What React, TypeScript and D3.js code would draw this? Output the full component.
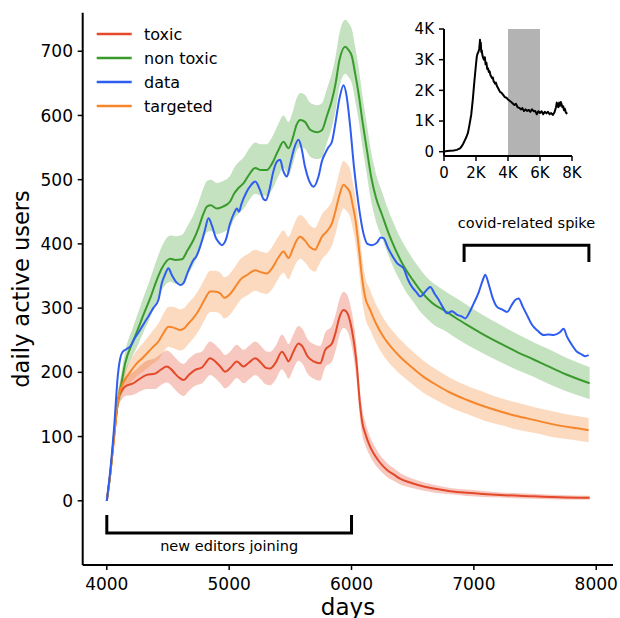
import React from 'react';
import * as d3 from 'd3';

// [day, mean, spread]
const toxic: number[][] = [
  [4000,0,0],[4030,45,4],[4060,100,8],[4095,160,12],[4125,172,14],[4150,178,15],[4218,183,18],[4270,190,20],
  [4327,196,22],[4395,198,24],[4440,204,24],[4491,209,25],[4525,205,25],[4558,198,25],[4590,192,25],[4627,188,25],
  [4670,196,25],[4722,204,25],[4780,208,25],[4845,222,26],[4880,218,26],[4927,209,26],[4967,201,26],[5010,207,26],
  [5063,217,26],[5117,209,26],[5160,215,26],[5213,222,26],[5260,215,26],[5300,207,26],[5335,206,26],[5380,215,26],
  [5431,232,27],[5460,225,27],[5485,217,27],[5520,230,27],[5567,245,27],[5600,240,27],[5640,225,27],[5690,217,27],
  [5744,214,27],[5785,235,27],[5840,245,28],[5870,262,28],[5900,285,28],[5935,297,28],[5960,294,28],[6003,266,27],
  [6025,240,27],[6044,209,26],[6058,175,24],[6072,145,22],[6090,120,20],[6112,105,18],[6150,85,15],[6180,74,14],
  [6230,60,12],[6290,48,11],[6344,41,10],[6400,34,9],[6453,30,8],[6535,25,7],[6671,19,6],[6807,15,5],
  [6944,12.5,5],[7216,9,4],[7488,7,4],[7700,5.5,3.5],[7946,4.7,3],
];

const nonToxic: number[][] = [
  [4000,0,0],[4030,45,5],[4060,105,10],[4090,155,14],[4109,172,16],[4150,214,18],[4218,250,22],[4260,270,25],
  [4300,290,27],[4354,315,30],[4409,344,32],[4450,362,34],[4518,377,36],[4560,375,37],[4613,376,38],[4660,390,38],
  [4708,406,39],[4750,425,40],[4790,447,40],[4818,458,40],[4850,460,40],[4900,455,40],[4950,458,40],[5008,466,40],
  [5040,478,40],[5076,487,40],[5120,495,40],[5170,510,40],[5213,518,40],[5260,515,40],[5308,515,40],[5350,525,41],
  [5400,545,41],[5444,559,41],[5485,549,41],[5520,565,41],[5550,585,41],[5581,593,42],[5620,590,42],[5660,578,42],
  [5690,575,42],[5720,574,42],[5758,577,42],[5800,600,42],[5840,624,42],[5870,650,42],[5900,685,42],[5949,707,42],
  [5975,702,42],[6003,692,42],[6030,665,42],[6057,635,41],[6090,590,40],[6126,546,39],[6160,505,38],[6200,472,37],
  [6250,445,36],[6300,418,35],[6350,395,35],[6400,375,34],[6450,358,34],[6500,344,33],[6560,328,33],[6620,315,32],
  [6680,305,32],[6753,297,31],[6850,285,31],[6944,274,31],[7050,262,30],[7216,245,29],[7350,232,28],[7488,220,27],
  [7600,210,27],[7750,197,26],[7946,183,25],
];

const dataSeries: number[][] = [
  [4000,0],[4030,50],[4060,115],[4090,195],[4110,222],[4130,232],[4160,236],[4190,240],[4230,254],[4272,266],
  [4310,278],[4340,287],[4380,300],[4422,313],[4450,339],[4475,352],[4504,362],[4530,352],[4570,340],[4600,336],
  [4627,339],[4660,355],[4708,375],[4730,380],[4770,400],[4800,420],[4831,440],[4860,428],[4890,410],[4913,403],
  [4940,398],[4970,405],[5008,432],[5040,448],[5063,455],[5080,450],[5100,462],[5140,480],[5180,492],[5213,497],
  [5250,485],[5280,470],[5300,468],[5330,485],[5360,512],[5390,528],[5417,531],[5440,515],[5472,505],[5500,525],
  [5530,548],[5567,562],[5590,550],[5620,520],[5650,500],[5690,489],[5730,505],[5760,530],[5785,541],[5810,550],
  [5840,559],[5870,590],[5900,625],[5935,647],[5960,630],[5989,583],[6020,520],[6057,462],[6098,416],[6130,400],
  [6167,398],[6208,402],[6240,410],[6262,409],[6300,393],[6344,378],[6372,370],[6400,366],[6425,362],[6460,345],
  [6494,333],[6530,325],[6562,318],[6600,325],[6644,333],[6680,322],[6712,313],[6750,300],[6780,292],[6820,295],
  [6860,290],[6900,287],[6930,284],[6960,292],[6998,307],[7040,325],[7070,342],[7093,352],[7120,338],[7150,318],
  [7189,302],[7230,298],[7271,294],[7310,305],[7340,313],[7366,315],[7400,302],[7440,287],[7475,274],[7520,265],
  [7570,258],[7610,259],[7652,258],[7700,262],[7734,268],[7760,256],[7800,243],[7843,232],[7880,228],[7910,225],
  [7938,227],
];

const targeted: number[][] = [
  [4000,0,0],[4030,45,4],[4060,100,8],[4095,160,12],[4130,182,14],[4163,193,16],[4200,203,18],[4245,214,20],
  [4290,222,22],[4340,232,24],[4380,240,26],[4422,248,28],[4460,260,30],[4504,271,31],[4540,270,32],[4600,266,32],
  [4630,268,32],[4667,276,32],[4700,283,32],[4736,292,32],[4770,303,32],[4804,315,32],[4845,326,32],[4880,326,32],
  [4927,323,32],[4960,316,32],[5008,322,32],[5050,333,32],[5090,344,32],[5150,352,32],[5213,359,32],[5260,356,32],
  [5308,354,32],[5350,362,33],[5400,378,33],[5444,388,33],[5485,378,33],[5520,392,33],[5550,405,34],[5581,411,34],
  [5620,405,34],[5660,395,34],[5703,391,34],[5730,400,34],[5758,411,35],[5800,420,35],[5840,432,35],[5870,452,36],
  [5900,475,36],[5935,492,37],[5960,488,37],[5989,479,37],[6010,460,36],[6030,440,36],[6044,420,35],[6065,385,34],
  [6085,349,33],[6110,318,32],[6153,297,31],[6200,276,30],[6262,255,29],[6330,238,28],[6398,224,27],[6480,210,26],
  [6589,193,25],[6671,183,24],[6800,169,23],[6944,157,22],[7100,146,22],[7216,139,21],[7350,132,21],[7488,126,20],
  [7650,119,20],[7800,114,19],[7938,110,19],
];

// inset: [day, daily active users]
const insetData: number[][] = [
  [0,10],[200,20],[400,30],[600,40],[800,60],[1000,110],[1100,170],[1200,260],[1300,370],[1400,480],[1500,620],
  [1600,900],[1700,1200],[1800,1700],[1900,2300],[2000,2850],[2050,3100],[2100,3200],[2150,3250],[2200,3350],
  [2230,3500],[2250,3650],[2270,3400],[2300,3550],[2330,3250],[2360,3300],[2400,3150],[2450,3050],[2500,3000],
  [2550,3080],[2600,2850],[2650,2900],[2700,2700],[2750,2720],[2800,2600],[2850,2620],[2900,2500],[3000,2400],
  [3050,2420],[3100,2300],[3200,2220],[3250,2250],[3300,2150],[3400,2050],[3500,1950],[3600,1920],[3700,1850],
  [3800,1780],[3900,1760],[4000,1700],[4100,1660],[4200,1620],[4300,1570],[4400,1520],[4500,1560],[4600,1450],
  [4700,1430],[4800,1380],[4900,1420],[5000,1330],[5100,1380],[5200,1330],[5300,1360],[5400,1300],[5500,1380],
  [5600,1320],[5700,1330],[5800,1220],[5900,1320],[6000,1260],[6100,1320],[6200,1220],[6300,1300],[6400,1250],
  [6500,1300],[6600,1220],[6700,1260],[6800,1200],[6900,1280],[7000,1450],[7050,1600],[7100,1500],[7150,1450],
  [7200,1600],[7250,1500],[7300,1620],[7350,1550],[7400,1450],[7450,1480],[7500,1350],[7550,1400],[7600,1300],
  [7650,1250],[7700,1280],
];

const legendLabels = ['toxic', 'non toxic', 'data', 'targeted'];
const xTicks = [4000, 5000, 6000, 7000, 8000];
const yTicks = [0, 100, 200, 300, 400, 500, 600, 700];
const insetXTicks = [0, 2000, 4000, 6000, 8000];
const insetYTicks = [0, 1000, 2000, 3000, 4000];
const insetSpan = [4000, 6000];
const editorsBracket = [4000, 6000, -22, -50];
const covidBracket = [6920, 7940, 398, 372];

const COLORS = {
  toxic: '#e4492a',
  nonToxic: '#3a9b2d',
  data: '#2f5df0',
  targeted: '#f5862b',
};
const FONT = 'DejaVu Sans, sans-serif';

export default function App() {
  const x = d3.scaleLinear().domain([3803, 8137]).range([82.7, 613]);
  const y = d3.scaleLinear().domain([-100, 760]).range([565, 12.7]);

  const line = d3
    .line<number[]>()
    .x((d) => x(d[0]))
    .y((d) => y(d[1]))
    .curve(d3.curveMonotoneX);
  const band = d3
    .area<number[]>()
    .x((d) => x(d[0]))
    .y0((d) => y(d[1] - d[2]))
    .y1((d) => y(d[1] + d[2]))
    .curve(d3.curveMonotoneX);

  const ix = d3.scaleLinear().domain([0, 8000]).range([444, 572]);
  const iy = d3.scaleLinear().domain([-140, 4000]).range([156, 29]);
  const iline = d3
    .line<number[]>()
    .x((d) => ix(d[0]))
    .y((d) => iy(d[1]))
    .curve(d3.curveLinear);

  const kfmt = (v: number) => (v === 0 ? '0' : `${v / 1000}K`);
  const legendColors = [COLORS.toxic, COLORS.nonToxic, COLORS.data, COLORS.targeted];

  const eb = editorsBracket;
  const cb = covidBracket;

  return (
    <svg
      width={620}
      height={618}
      style={{ position: 'absolute', left: 0, top: 0, background: '#fff' }}
      fontFamily={FONT}
    >
      <rect x={0} y={0} width={620} height={618} fill="#fff" />
      {/* bands */}
      <path d={band(toxic) || ''} fill={COLORS.toxic} fillOpacity={0.3} />
      <path d={band(nonToxic) || ''} fill={COLORS.nonToxic} fillOpacity={0.3} />
      <path d={band(targeted) || ''} fill={COLORS.targeted} fillOpacity={0.3} />
      {/* lines */}
      <path d={line(toxic) || ''} fill="none" stroke={COLORS.toxic} strokeWidth={2} />
      <path d={line(nonToxic) || ''} fill="none" stroke={COLORS.nonToxic} strokeWidth={2} />
      <path d={line(targeted) || ''} fill="none" stroke={COLORS.targeted} strokeWidth={2} />
      <path d={line(dataSeries) || ''} fill="none" stroke={COLORS.data} strokeWidth={2} />

      {/* brackets */}
      <path
        d={`M${x(eb[0])},${y(eb[2])}V${y(eb[3])}H${x(eb[1])}V${y(eb[2])}`}
        fill="none"
        stroke="#000"
        strokeWidth={3}
      />
      <text x={x((eb[0] + eb[1]) / 2)} y={y(-78)} fontSize={14.5} textAnchor="middle" fill="#000">
        new editors joining
      </text>
      <path
        d={`M${x(cb[0])},${y(cb[3])}V${y(cb[2])}H${x(cb[1])}V${y(cb[3])}`}
        fill="none"
        stroke="#000"
        strokeWidth={3}
      />
      <text x={x((cb[0] + cb[1]) / 2)} y={y(424)} fontSize={14.5} textAnchor="middle" fill="#000">
        covid-related spike
      </text>

      {/* axes */}
      <line x1={82.7} x2={82.7} y1={12.7} y2={565} stroke="#000" strokeWidth={2} />
      <line x1={82.7} x2={613} y1={565} y2={565} stroke="#000" strokeWidth={2} />
      {yTicks.map((t) => (
        <g key={`y${t}`}>
          <line x1={77.7} x2={82.7} y1={y(t)} y2={y(t)} stroke="#000" strokeWidth={1.5} />
          <text x={73} y={y(t)} dy="0.36em" fontSize={17} textAnchor="end" fill="#000">
            {t}
          </text>
        </g>
      ))}
      {xTicks.map((t) => (
        <g key={`x${t}`}>
          <line x1={x(t)} x2={x(t)} y1={565} y2={570} stroke="#000" strokeWidth={1.5} />
          <text x={x(t)} y={589.5} fontSize={17} textAnchor="middle" fill="#000">
            {t}
          </text>
        </g>
      ))}
      <text x={348} y={615} fontSize={23} textAnchor="middle" fill="#000">
        days
      </text>
      <text
        transform={`translate(29,289) rotate(-90)`}
        fontSize={22.5}
        textAnchor="middle"
        fill="#000"
      >
        daily active users
      </text>

      {/* legend */}
      {legendLabels.map((l, i) => (
        <g key={l}>
          <line
            x1={96.7}
            x2={131.7}
            y1={34 + i * 24}
            y2={34 + i * 24}
            stroke={legendColors[i]}
            strokeWidth={2.5}
          />
          <text x={144} y={34 + i * 24} dy="0.36em" fontSize={16} fill="#000">
            {l}
          </text>
        </g>
      ))}

      {/* inset */}
      <rect
        x={ix(insetSpan[0])}
        y={29}
        width={ix(insetSpan[1]) - ix(insetSpan[0])}
        height={156 - 29}
        fill="#b3b3b3"
      />
      <path d={iline(insetData) || ''} fill="none" stroke="#000" strokeWidth={2} strokeLinejoin="round" />
      <line x1={444} x2={444} y1={29} y2={156} stroke="#000" strokeWidth={2} />
      <line x1={444} x2={572} y1={156} y2={156} stroke="#000" strokeWidth={2} />
      {insetYTicks.map((t) => (
        <g key={`iy${t}`}>
          <line x1={439} x2={444} y1={iy(t)} y2={iy(t)} stroke="#000" strokeWidth={1.5} />
          <text x={434} y={iy(t)} dy="0.36em" fontSize={15} textAnchor="end" fill="#000">
            {kfmt(t)}
          </text>
        </g>
      ))}
      {insetXTicks.map((t) => (
        <g key={`ix${t}`}>
          <line x1={ix(t)} x2={ix(t)} y1={156} y2={161} stroke="#000" strokeWidth={1.5} />
          <text x={ix(t)} y={178} fontSize={15} textAnchor="middle" fill="#000">
            {kfmt(t)}
          </text>
        </g>
      ))}
    </svg>
  );
}
